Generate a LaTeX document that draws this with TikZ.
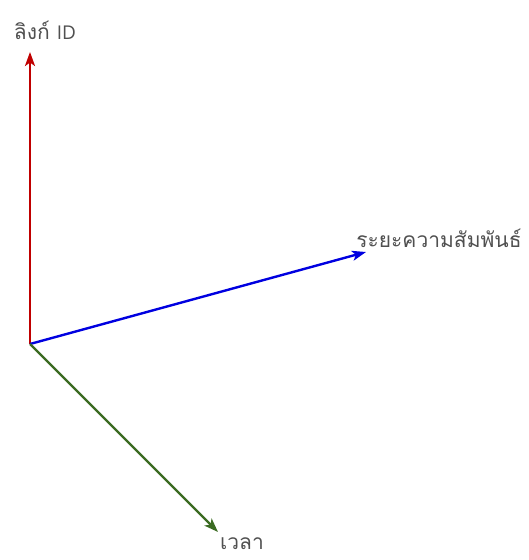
\documentclass[tikz,border=0pt]{standalone}
\usepackage{fontspec}
\newfontfamily\thaifont[Script=Thai]{Loma}
\newfontfamily\latinfont{Open Sans}
\usetikzlibrary{arrows.meta}
\definecolor{axred}{HTML}{C00000}
\definecolor{axblue}{HTML}{0000E0}
\definecolor{axgreen}{HTML}{3B6B22}
\definecolor{lab}{HTML}{505050}
\begin{document}
\begin{tikzpicture}[x=1pt,y=-1pt,
  axis/.style={line width=2.4pt,-{Stealth[length=14pt,width=10pt,inset=3.5pt]}},
  lbl/.style={text=lab,font=\thaifont\fontsize{21}{24}\selectfont,inner sep=0pt}]
\useasboundingbox (0,0) rectangle (528,560);
\coordinate (o) at (30,344);
\coordinate (zt) at (30,52);
\coordinate (xt) at (366,252);
\coordinate (yt) at (218,532);
\draw[axis,axred] (o) -- (zt);
\draw[axis,axblue] (o) -- (xt);
\draw[axis,axgreen] (o) -- (yt);
\node[lbl] (lz) at (45,30) {ลิงก์ {\latinfont\fontsize{19}{22}\selectfont ID}};
\node[lbl] (lx) at (439,238) {ระยะความสัมพันธ์};
\node[lbl] (ly) at (242,544) {เวลา};
\end{tikzpicture}
\end{document}
